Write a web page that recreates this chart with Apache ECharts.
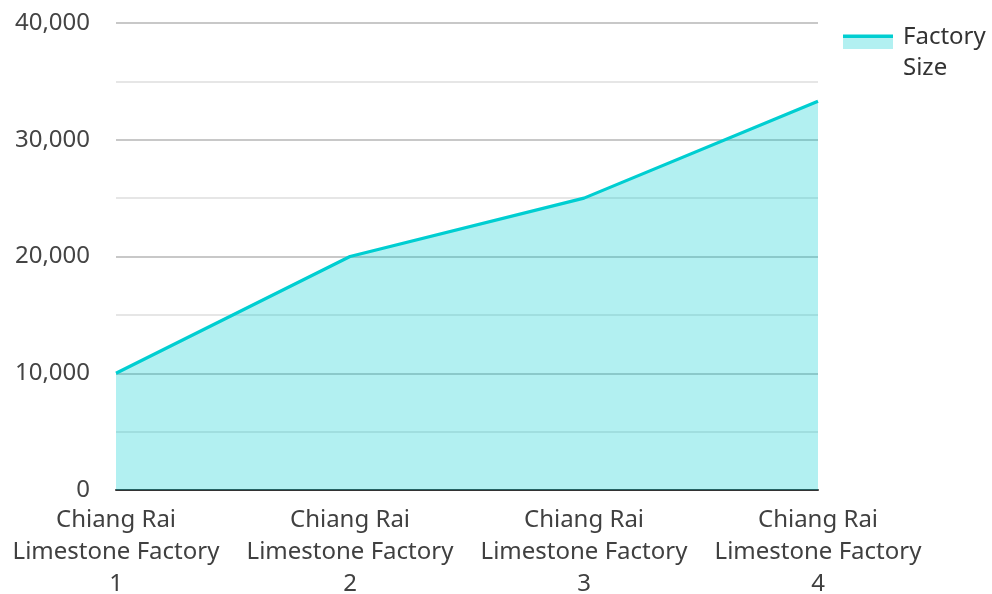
<!DOCTYPE html>
<html>
<head>
<meta charset="utf-8">
<script src="https://cdn.jsdelivr.net/npm/echarts@6/dist/echarts.min.js"></script>
<style>
  html, body { margin: 0; padding: 0; background: #fff; }
  #chartDom { width: 992px; height: 594px; }
</style>
</head>
<body>
<div id="chartDom"></div>
<script>
// data
const categories = [
  'Chiang Rai Limestone Factory 1',
  'Chiang Rai Limestone Factory 2',
  'Chiang Rai Limestone Factory 3',
  'Chiang Rai Limestone Factory 4'
]
const factorySize = [10000, 20000, 25000, 33300]
const seriesName = 'Factory Size'

const chart = echarts.init(document.getElementById('chartDom'))
const font = 'Noto Sans'

const option = {
  animation: false,
  textStyle: { fontFamily: font },
  grid: {
    left: 116,
    right: 174,
    top: 23,
    bottom: 104,
    containLabel: false,
    outerBoundsMode: 'none'
  },
  legend: {
    left: 843,
    top: 22,
    padding: 0,
    itemWidth: 50,
    itemHeight: 37,
    icon: 'rect',
    itemStyle: {
      // line on top, area fill under it, rest transparent so it sits by the first text line
      color: new echarts.graphic.LinearGradient(0, 0, 0, 1, [
        { offset: 0, color: '#00CED1' },
        { offset: 0.108, color: '#00CED1' },
        { offset: 0.108, color: '#b2f0f1' },
        { offset: 0.405, color: '#b2f0f1' },
        { offset: 0.405, color: 'rgba(255,255,255,0)' },
        { offset: 1, color: 'rgba(255,255,255,0)' }
      ])
    },
    formatter: function (name) {
      return name.split(' ').map(function (w) { return '{t|' + w + '}' }).join('\n')
    },
    textStyle: {
      fontFamily: font,
      fontSize: 24,
      color: '#333',
      lineHeight: 31,
      rich: {
        t: { fontFamily: font, fontSize: 24, color: '#333', lineHeight: 31, padding: [0, 0, 0, 5] }
      }
    },
    data: [seriesName]
  },
  xAxis: {
    type: 'category',
    boundaryGap: false,
    data: categories,
    axisLine: { show: true, lineStyle: { color: '#333', width: 2 } },
    axisTick: { show: false },
    splitLine: { show: false },
    axisLabel: {
      interval: 0,
      margin: 14,
      fontFamily: font,
      fontSize: 24,
      lineHeight: 32,
      color: '#404040',
      formatter: function (name) {
        return name.replace(' Limestone', '\nLimestone').replace(/ (\d+)$/, '\n$1')
      }
    }
  },
  yAxis: {
    type: 'value',
    min: 0,
    max: 40000,
    interval: 10000,
    axisLine: { show: false },
    axisTick: { show: false },
    axisLabel: {
      margin: 26,
      fontFamily: font,
      fontSize: 24,
      color: '#444',
      formatter: function (v) {
        return v.toLocaleString('en-US')
      }
    },
    splitLine: { show: true, lineStyle: { color: '#c8c8c8', width: 2 } },
    minorTick: { show: false, splitNumber: 2 },
    minorSplitLine: { show: true, lineStyle: { color: '#e6e6e6', width: 2 } }
  },
  series: [
    {
      name: seriesName,
      type: 'line',
      data: factorySize,
      showSymbol: false,
      symbol: 'none',
      lineStyle: { color: '#00CED1', width: 3.2 },
      itemStyle: { color: '#00CED1' },
      areaStyle: { color: '#00CED1', opacity: 0.3 },
      z: 1
    }
  ]
}

chart.setOption(option)
</script>
</body>
</html>
